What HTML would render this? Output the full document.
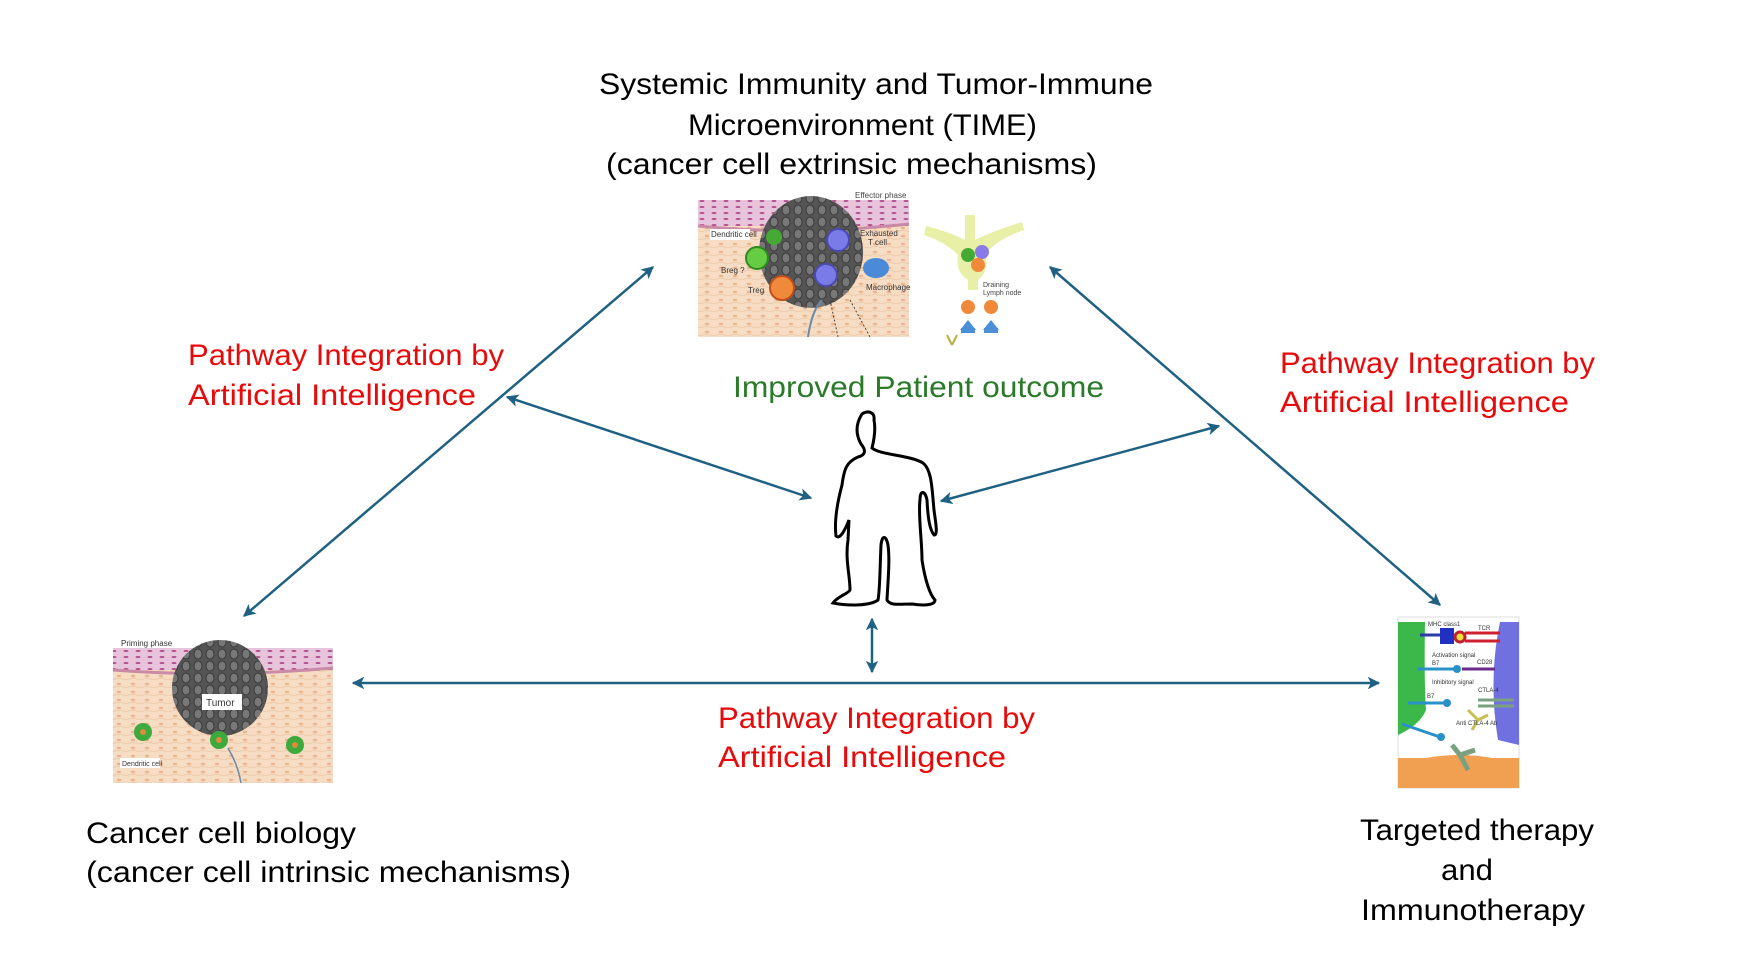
<!DOCTYPE html>
<html><head><meta charset="utf-8"><style>
html,body{margin:0;padding:0;background:#fff;}
svg{display:block;}
text{font-family:"Liberation Sans",sans-serif;}
</style></head><body>
<svg width="1742" height="969" viewBox="0 0 1742 969" xmlns="http://www.w3.org/2000/svg">
<defs>
<marker id="ah" viewBox="0 0 10 10" refX="9" refY="5" markerWidth="5" markerHeight="5" orient="auto-start-reverse">
<path d="M0,0 L10,5 L0,10 L2.5,5 Z" fill="#1f6182"/></marker>
<pattern id="tiss" width="14" height="8" patternUnits="userSpaceOnUse">
<rect width="14" height="8" fill="#f6dcc2"/><ellipse cx="7" cy="4" rx="2.2" ry="1.2" fill="#eab48f"/><path d="M0,8 Q7,5 14,8" stroke="#e9c6a6" fill="none" stroke-width="0.8"/></pattern>
<pattern id="skin" width="12" height="6" patternUnits="userSpaceOnUse">
<rect width="12" height="6" fill="#e8c3dc"/><ellipse cx="6" cy="3" rx="2.5" ry="1" fill="#b4508c"/></pattern>
<pattern id="tum" width="12" height="12" patternUnits="userSpaceOnUse">
<rect width="12" height="12" fill="#555"/><ellipse cx="6" cy="6" rx="4" ry="5" fill="#777" stroke="#3a3a3a" stroke-width="1"/></pattern>
</defs>

<!-- Title -->
<g font-size="30" fill="#000" text-anchor="start">
<text x="599" y="94" textLength="554" lengthAdjust="spacingAndGlyphs">Systemic Immunity and Tumor-Immune</text>
<text x="688" y="135" textLength="349" lengthAdjust="spacingAndGlyphs">Microenvironment (TIME)</text>
<text x="606" y="174" textLength="491" lengthAdjust="spacingAndGlyphs">(cancer cell extrinsic mechanisms)</text>
<text x="86" y="843" textLength="270" lengthAdjust="spacingAndGlyphs">Cancer cell biology</text>
<text x="86" y="882" textLength="485" lengthAdjust="spacingAndGlyphs">(cancer cell intrinsic mechanisms)</text>
<text x="1360" y="840" textLength="234" lengthAdjust="spacingAndGlyphs">Targeted therapy</text>
<text x="1441" y="880" textLength="52" lengthAdjust="spacingAndGlyphs">and</text>
<text x="1361" y="920" textLength="224" lengthAdjust="spacingAndGlyphs">Immunotherapy</text>
</g>
<g font-size="30" fill="#e80a0a">
<text x="188" y="365" textLength="316" lengthAdjust="spacingAndGlyphs">Pathway Integration by</text>
<text x="188" y="405" textLength="288" lengthAdjust="spacingAndGlyphs">Artificial Intelligence</text>
<text x="1280" y="373" textLength="315" lengthAdjust="spacingAndGlyphs">Pathway Integration by</text>
<text x="1280" y="412" textLength="289" lengthAdjust="spacingAndGlyphs">Artificial Intelligence</text>
<text x="718" y="728" textLength="317" lengthAdjust="spacingAndGlyphs">Pathway Integration by</text>
<text x="718" y="767" textLength="288" lengthAdjust="spacingAndGlyphs">Artificial Intelligence</text>
</g>
<text x="733" y="397" font-size="30" fill="#2a7a2a" textLength="371" lengthAdjust="spacingAndGlyphs">Improved Patient outcome</text>

<!-- Arrows -->
<g stroke="#1f6182" stroke-width="2.5" fill="none" marker-start="url(#ah)" marker-end="url(#ah)">
<line x1="653" y1="267" x2="244" y2="616"/>
<line x1="1050" y1="267" x2="1440" y2="605"/>
<line x1="507" y1="397" x2="811" y2="498"/>
<line x1="941" y1="501" x2="1219" y2="426"/>
<line x1="872" y1="619" x2="872" y2="672"/>
<line x1="353" y1="683" x2="1379" y2="683"/>
</g>

<!-- Person -->
<path d="M862,414 C868,410 875,412 874,420 C876,430 874,440 872,448 C880,455 910,455 923,463 C932,470 932,490 934,510 C936,525 938,535 934,535 C930,530 928,520 927,500 C925,490 920,490 920,500 C918,515 922,540 922,560 C925,580 930,595 935,600 C935,605 925,606 912,604 C900,604 890,606 887,600 C888,580 890,560 888,545 C886,535 882,535 881,545 C880,565 880,590 878,600 C870,606 848,606 833,603 C838,596 848,594 850,590 C850,575 845,560 848,540 L849,520 C845,530 840,540 836,536 C834,520 838,500 842,485 C844,470 846,462 858,457 C866,455 866,450 861,444 C856,435 855,425 862,414 Z" fill="#fff" stroke="#000" stroke-width="3"/>

<!-- Top image -->
<g>
<rect x="698" y="200" width="211" height="137" fill="url(#tiss)"/>
<rect x="698" y="200" width="211" height="26" fill="url(#skin)"/>
<path d="M698,226 Q800,236 909,224" stroke="#c98aa8" stroke-width="3" fill="none"/>
<text x="855" y="198" font-size="8" fill="#444">Effector phase</text>
<ellipse cx="811" cy="252" rx="52" ry="56" fill="url(#tum)"/>
<circle cx="757" cy="258" r="11" fill="#66cc44" stroke="#2e8a1e" stroke-width="2"/>
<circle cx="774" cy="237" r="8" fill="#44aa33"/>
<circle cx="782" cy="288" r="12" fill="#f08a3a" stroke="#c0501e" stroke-width="2"/>
<circle cx="838" cy="240" r="11" fill="#7a7ae8" stroke="#4a4ab0" stroke-width="2"/>
<circle cx="826" cy="275" r="11" fill="#7a7ae8" stroke="#4a4ab0" stroke-width="2"/>
<ellipse cx="876" cy="268" rx="13" ry="10" fill="#4a8ad8"/>
<g font-size="8" fill="#333">
<rect x="710" y="229" width="40" height="11" fill="#fff"/><text x="711" y="237">Dendritic cell</text>
<text x="721" y="273">Breg ?</text><text x="748" y="293">Treg</text>
<text x="860" y="236">Exhausted</text><text x="868" y="245">T cell</text>
<text x="866" y="290">Macrophage</text>
</g>
<path d="M808,337 Q812,310 822,300" stroke="#6a8aa8" stroke-width="2" fill="none"/>
<path d="M830,300 L838,337 M850,300 L870,337" stroke="#444" stroke-dasharray="2,2" fill="none"/>
<!-- lymph -->
<path d="M975,215 L975,240 Q990,232 1022,222 L1024,230 Q995,240 985,255 Q990,270 978,280 L978,290 L968,290 L968,280 Q955,272 958,255 Q945,242 924,235 L926,226 Q950,232 965,240 L965,215 Z" fill="#e8f0a8"/>
<circle cx="968" cy="255" r="7" fill="#44aa33"/><circle cx="982" cy="252" r="7" fill="#8a7ae8"/><circle cx="978" cy="265" r="7" fill="#f08a3a"/>
<text x="983" y="287" font-size="7" fill="#444">Draining</text><text x="983" y="295" font-size="7" fill="#444">Lymph node</text>
<circle cx="968" cy="307" r="7" fill="#f08a3a"/><circle cx="991" cy="307" r="7" fill="#f08a3a"/>
<path d="M960,330 L968,320 L976,330 Z M983,330 L991,320 L999,330 Z" fill="#4a90d8"/>
<rect x="961" y="328" width="14" height="5" fill="#4a90d8"/><rect x="984" y="328" width="14" height="5" fill="#4a90d8"/>
<path d="M947,335 L952,345 M957,335 L952,345" stroke="#b8b040" stroke-width="2"/>
</g>

<!-- Bottom-left image -->
<g>
<text x="121" y="646" font-size="8" fill="#333">Priming  phase</text>
<rect x="113" y="648" width="220" height="135" fill="url(#tiss)"/>
<rect x="113" y="648" width="220" height="22" fill="url(#skin)"/>
<path d="M113,670 Q220,678 333,668" stroke="#c98aa8" stroke-width="3" fill="none"/>
<ellipse cx="220" cy="688" rx="48" ry="48" fill="url(#tum)"/>
<rect x="202" y="694" width="40" height="16" fill="#fff"/><text x="206" y="706" font-size="10" fill="#333">Tumor</text>
<g fill="#3caa3c"><circle cx="143" cy="732" r="9"/><circle cx="219" cy="740" r="9"/><circle cx="295" cy="745" r="9"/></g>
<g fill="#e08a3a"><circle cx="143" cy="732" r="3"/><circle cx="219" cy="740" r="3"/><circle cx="295" cy="745" r="3"/></g>
<rect x="120" y="758" width="40" height="10" fill="#fff"/><text x="122" y="766" font-size="7" fill="#333">Dendritic cell</text>
<path d="M228,748 Q238,765 241,783" stroke="#6a8aa8" stroke-width="1.5" fill="none"/>
</g>

<!-- Right image -->
<g>
<rect x="1398" y="617" width="121" height="171" fill="#fff" stroke="#ddd"/>
<path d="M1398,622 L1425,622 Q1424,680 1426,710 Q1420,725 1398,735 Z" fill="#3cb84a"/>
<path d="M1519,622 L1500,622 Q1488,680 1498,740 L1519,745 Z" fill="#7070e0"/>
<rect x="1398" y="758" width="121" height="30" fill="#f0a050"/>
<path d="M1398,765 Q1460,745 1519,765" fill="#f0a050"/>
<g stroke-width="3" fill="none">
<line x1="1420" y1="635" x2="1445" y2="635" stroke="#2a3aa8"/>
<rect x="1440" y="628" width="14" height="16" fill="#2030c0" stroke="none"/>
<circle cx="1460" cy="637" r="5" fill="#f0e040" stroke="#c02030"/>
<line x1="1465" y1="633" x2="1500" y2="633" stroke="#d02030"/><line x1="1465" y1="641" x2="1500" y2="641" stroke="#d02030"/>
<line x1="1418" y1="669" x2="1455" y2="669" stroke="#2a90c8"/><circle cx="1457" cy="669" r="4" fill="#2a90c8" stroke="none"/>
<line x1="1462" y1="669" x2="1495" y2="669" stroke="#6a2a8a"/>
<line x1="1408" y1="703" x2="1445" y2="703" stroke="#2a90c8"/><circle cx="1447" cy="703" r="4" fill="#2a90c8" stroke="none"/>
<line x1="1402" y1="724" x2="1440" y2="737" stroke="#2a90c8"/><circle cx="1441" cy="737" r="4" fill="#2a90c8" stroke="none"/>
<path d="M1478,700 L1514,700 M1478,706 L1514,706" stroke="#7aa080"/>
<path d="M1468,710 L1478,720 L1472,730 M1478,720 L1488,715" stroke="#c8c050"/>
<path d="M1452,745 L1460,755 L1468,770 M1460,755 L1475,750" stroke="#7aa080" stroke-width="5"/>
</g>
<g font-size="6" fill="#333"><text x="1428" y="626">MHC class1</text><text x="1478" y="630">TCR</text>
<text x="1432" y="657">Activation signal</text><text x="1432" y="665">B7</text><text x="1477" y="664">CD28</text>
<text x="1432" y="684">Inhibitory signal</text><text x="1478" y="692">CTLA-4</text><text x="1427" y="698">B7</text><text x="1456" y="725">Anti CTLA-4 Ab</text></g>
</g>
</svg>
</body></html>
